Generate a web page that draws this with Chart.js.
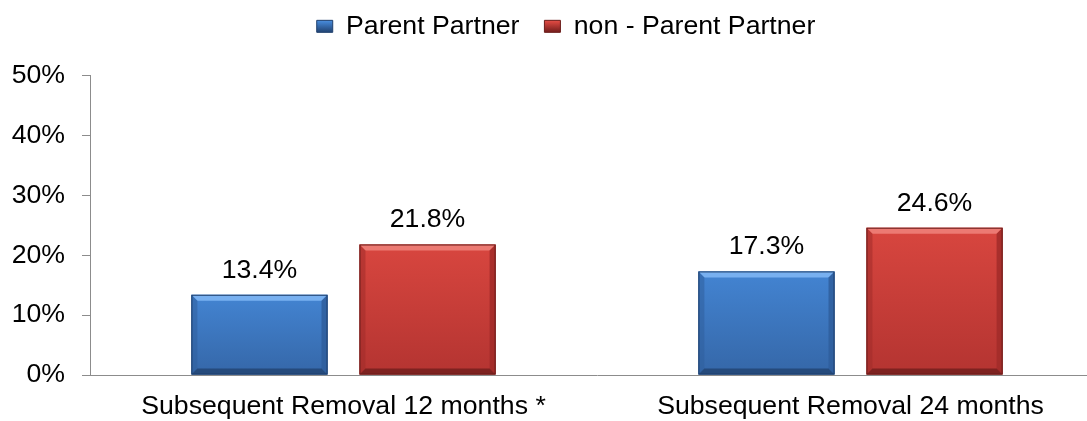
<!DOCTYPE html>
<html>
<head>
<meta charset="utf-8">
<script src="https://cdn.jsdelivr.net/npm/chart.js@4.4.0/dist/chart.umd.min.js"></script>
<style>
    html, body { margin: 0; padding: 0; background: white; overflow: hidden; }
    #wrap { width: 1110px; height: 421px; position: relative; }
</style>
</head>
<body>
<div id="wrap"><canvas id="myChart"></canvas></div>
<script>
let categories = ['Subsequent Removal 12 months *', 'Subsequent Removal 24 months'];
let series_names = ['Parent Partner', 'non - Parent Partner'];
let parent_partner = [13.4, 17.3];
let non_parent_partner = [21.8, 24.6];
let y_ticks = [0, 10, 20, 30, 40, 50];

// face top, face bottom, top bevel, side, bottom bevel, border
let blue_cols = ['#4384d2', '#3567a8', '#78b0f0', '#2f5e9c', '#254a7c', '#1f3f6c'];
let red_cols = ['#d8463f', '#b43431', '#ec7a73', '#a12c29', '#7e2220', '#6a1c1a'];

const font_px = 26.67;

const bevel_plugin = {
    id: 'bevel',
    beforeDraw(chart) {
        // tick labels stick out left of the (narrowed) y scale box, so don't clip them
        chart.scales.y._computeLabelArea = function () { return undefined; };
    },
    afterDatasetsDraw(chart) {
        const ctx = chart.ctx;
        chart.data.datasets.forEach((ds, di) => {
            let c = di == 0 ? blue_cols : red_cols;
            let meta = chart.getDatasetMeta(di);
            meta.data.forEach((bar) => {
                let l = bar.x - bar.width / 2, r = bar.x + bar.width / 2;
                let t = bar.y, b = bar.base;
                let bv = 6;
                ctx.save();
                let g = ctx.createLinearGradient(0, t, 0, b);
                g.addColorStop(0, c[0]);
                g.addColorStop(1, c[1]);
                ctx.fillStyle = g;
                ctx.fillRect(l, t, r - l, b - t);
                // top
                ctx.fillStyle = c[2];
                ctx.beginPath();
                ctx.moveTo(l, t); ctx.lineTo(r, t); ctx.lineTo(r - bv, t + bv); ctx.lineTo(l + bv, t + bv);
                ctx.closePath(); ctx.fill();
                // left
                ctx.globalAlpha = 0.55;
                ctx.fillStyle = c[3];
                ctx.beginPath();
                ctx.moveTo(l, t); ctx.lineTo(l + bv, t + bv); ctx.lineTo(l + bv, b - bv); ctx.lineTo(l, b);
                ctx.closePath(); ctx.fill();
                // right
                ctx.globalAlpha = 0.85;
                ctx.beginPath();
                ctx.moveTo(r, t); ctx.lineTo(r - bv, t + bv); ctx.lineTo(r - bv, b - bv); ctx.lineTo(r, b);
                ctx.closePath(); ctx.fill();
                // bottom
                ctx.globalAlpha = 1;
                ctx.fillStyle = c[4];
                ctx.beginPath();
                ctx.moveTo(l, b); ctx.lineTo(l + bv, b - bv); ctx.lineTo(r - bv, b - bv); ctx.lineTo(r, b);
                ctx.closePath(); ctx.fill();
                ctx.strokeStyle = c[5];
                ctx.lineWidth = 1;
                ctx.strokeRect(l + 0.5, t + 0.5, r - l - 1, b - t - 1);
                ctx.restore();
            });
        });
    }
};

const label_plugin = {
    id: 'barlabels',
    afterDatasetsDraw(chart) {
        const ctx = chart.ctx;
        ctx.save();
        ctx.font = font_px + 'px "Liberation Sans", Arial, sans-serif';
        ctx.fillStyle = '#000';
        ctx.textAlign = 'center';
        ctx.textBaseline = 'alphabetic';
        chart.data.datasets.forEach((ds, di) => {
            chart.getDatasetMeta(di).data.forEach((bar, i) => {
                ctx.fillText(ds.data[i].toFixed(1) + '%', bar.x, bar.y - 17);
            });
        });
        ctx.restore();
    }
};

// gradient used only by the legend boxes (bars are painted by bevel_plugin)
function legend_fill(c) {
    let g = document.getElementById('myChart').getContext('2d').createLinearGradient(0, 17, 0, 31);
    g.addColorStop(0, c[2]);
    g.addColorStop(0.35, c[0]);
    g.addColorStop(1, c[4]);
    return g;
}

Chart.defaults.font.family = '"Liberation Sans", Arial, sans-serif';
Chart.defaults.font.size = font_px;
Chart.defaults.color = '#000';

var ctx = document.getElementById('myChart');
var chart = new Chart(ctx, {
    type: 'bar',
    data: {
        labels: categories,
        datasets: [
            {
                label: series_names[0],
                data: parent_partner,
                backgroundColor: legend_fill(blue_cols),
                borderColor: blue_cols[5],
                borderWidth: 1,
                categoryPercentage: 0.663,
                barPercentage: 0.81
            },
            {
                label: series_names[1],
                data: non_parent_partner,
                backgroundColor: legend_fill(red_cols),
                borderColor: red_cols[5],
                borderWidth: 1,
                categoryPercentage: 0.663,
                barPercentage: 0.81
            }
        ]
    },
    options: {
        responsive: true,
        maintainAspectRatio: false,
        animation: false,
        layout: { padding: { left: 28, right: 6, top: -12, bottom: 0 } },
        scales: {
            y: {
                min: y_ticks[0],
                max: y_ticks[y_ticks.length - 1],
                afterFit: (s) => { s.width = 62; },
                ticks: {
                    stepSize: y_ticks[1] - y_ticks[0],
                    padding: 17,
                    callback: (v) => v + '%'
                },
                grid: { drawOnChartArea: false, tickLength: 8, color: '#8c8c8c' },
                border: { display: true, color: '#8c8c8c', width: 1 }
            },
            x: {
                afterFit: (s) => { s.height = 46; },
                grid: { drawOnChartArea: false, drawTicks: false },
                border: { display: true, color: '#8c8c8c', width: 1 },
                ticks: { padding: 16 }
            }
        },
        plugins: {
            legend: {
                position: 'top',
                weight: 3000,
                labels: {
                    boxWidth: 16,
                    boxHeight: 12,
                    padding: 25
                }
            },
            // empty title used only as a spacer between legend and plot
            title: {
                display: true,
                text: '',
                weight: 500,
                font: { size: 10 },
                padding: { top: 0, bottom: 14 }
            },
            tooltip: { enabled: false }
        }
    },
    plugins: [bevel_plugin, label_plugin]
});
</script>
</body>
</html>
